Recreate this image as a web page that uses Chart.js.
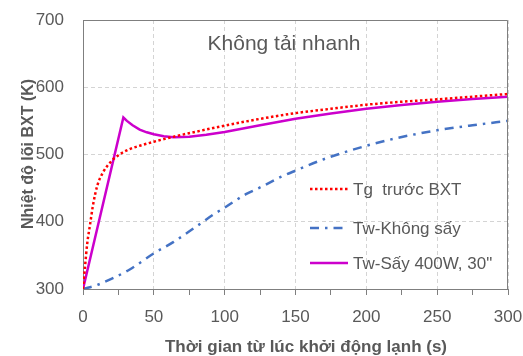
<!DOCTYPE html>
<html>
<head>
<meta charset="utf-8">
<script src="https://cdn.jsdelivr.net/npm/chart.js@4.4.0/dist/chart.umd.min.js"></script>
<style>
  html, body { margin: 0; padding: 0; background: #fff; }
  #khung { width: 523px; height: 356px; position: relative; }
</style>
</head>
<body>
<div id="khung"><canvas id="nhietDoChart"></canvas></div>
<script>
// du lieu doc tu hinh
const tieuDe = 'Không tải nhanh';
const tenTrucX = 'Thời gian từ lúc khởi động lạnh (s)';
const tenTrucY = 'Nhiệt độ lõi BXT (K)';
const tenDuLieu = ['Tg  trước BXT', 'Tw-Không sấy', 'Tw-Sấy 400W, 30"'];

const thoiGianTg = [0, 1.5, 3, 5, 7, 10, 14, 20, 25, 33, 40, 50, 64, 80, 100, 125, 150, 175, 200, 225, 250, 275, 300];
const nhietDoTg = [300, 335, 368, 396, 424, 453, 473, 490, 499, 508, 513, 519, 526.5, 534, 543, 553, 561.5, 568, 574, 578.5, 582, 586, 590];

const thoiGianKhongSay = [0, 10, 20, 33, 50, 64, 78, 93, 100, 115, 125, 140, 150, 170, 200, 225, 250, 275, 300];
const nhietDoKhongSay = [300, 306, 315, 329, 353, 370, 390, 412, 421, 441, 451, 467, 476, 493, 513, 526, 536, 543.5, 550];

const thoiGianSay = [0, 28.5, 31, 35, 40, 45, 50, 57, 64, 75, 87, 100, 125, 150, 175, 200, 225, 250, 275, 300];
const nhietDoSay = [300, 555, 550, 543.5, 537, 533, 530, 527, 525.5, 526.5, 529.5, 533.5, 543.5, 553, 561, 568, 573.5, 578.5, 582.5, 586];

const ghep = (xs, ys) => xs.map((x, i) => ({ x: x, y: ys[i] }));

const phongChu = '"Liberation Sans", Arial, sans-serif';
const mauChu = '#595959';

// ve tieu de, ten truc, khung tren/phai va chu thich
const veThem = {
    id: 'veThem',
    afterDraw(chart) {
        const ctx = chart.ctx;
        const a = chart.chartArea;
        ctx.save();
        ctx.strokeStyle = '#7f7f7f';
        ctx.lineWidth = 1;
        ctx.beginPath();
        ctx.moveTo(a.left, a.top + 0.5);
        ctx.lineTo(a.right - 0.5, a.top + 0.5);
        ctx.lineTo(a.right - 0.5, a.bottom);
        ctx.stroke();

        ctx.fillStyle = mauChu;
        ctx.textAlign = 'center';
        ctx.textBaseline = 'alphabetic';
        ctx.font = '21px ' + phongChu;
        ctx.fillText(tieuDe, 284, 50);

        ctx.font = 'bold 17px ' + phongChu;
        ctx.fillText(tenTrucX, 306, 352);

        ctx.save();
        ctx.translate(33, 154);
        ctx.rotate(-Math.PI / 2);
        ctx.font = 'bold 16px ' + phongChu;
        ctx.fillText(tenTrucY, 0, 0);
        ctx.restore();

        const hangY = [189, 228, 263];
        ctx.font = '17px ' + phongChu;
        ctx.textAlign = 'left';
        chart.data.datasets.forEach((ds, i) => {
            ctx.save();
            ctx.strokeStyle = ds.borderColor;
            ctx.lineWidth = ds.borderWidth;
            ctx.setLineDash(ds.borderDash || []);
            ctx.beginPath();
            ctx.moveTo(310, hangY[i]);
            ctx.lineTo(348, hangY[i]);
            ctx.stroke();
            ctx.restore();
            ctx.fillText(ds.label, 353, hangY[i] + 6);
        });
        ctx.restore();
    }
};

const ctx = document.getElementById('nhietDoChart').getContext('2d');
const nhietDoChart = new Chart(ctx, {
    type: 'line',
    data: {
        datasets: [{
            label: tenDuLieu[0],
            data: ghep(thoiGianTg, nhietDoTg),
            borderColor: '#ff0000',
            borderWidth: 2.5,
            borderDash: [2.5, 2.5],
            cubicInterpolationMode: 'monotone'
        }, {
            label: tenDuLieu[1],
            data: ghep(thoiGianKhongSay, nhietDoKhongSay),
            borderColor: '#4472c4',
            borderWidth: 2.5,
            borderDash: [9, 6, 2.5, 6],
            cubicInterpolationMode: 'monotone'
        }, {
            label: tenDuLieu[2],
            data: ghep(thoiGianSay, nhietDoSay),
            borderColor: '#cc00cc',
            borderWidth: 2.5,
            tension: 0
        }]
    },
    options: {
        responsive: true,
        maintainAspectRatio: false,
        animation: false,
        layout: { padding: { left: 0, right: 15, top: 20, bottom: 0 } },
        elements: { point: { radius: 0 } },
        plugins: {
            legend: { display: false },
            tooltip: { enabled: false }
        },
        scales: {
            x: {
                type: 'linear',
                min: 0,
                max: 300,
                afterFit: s => {
                    s.height = 67;
                    s.paddingLeft = 0;
                    s.paddingRight = 0;
                },
                ticks: {
                    stepSize: 25,
                    padding: 12,
                    color: mauChu,
                    font: { family: phongChu, size: 17 },
                    maxRotation: 0,
                    autoSkip: false,
                    callback: v => (v % 50 === 0 ? v : '')
                },
                grid: {
                    color: c => (c.tick && c.tick.value % 50 === 0 ? '#d4d4d4' : 'rgba(0,0,0,0)'),
                    borderDash: [4, 3],
                    tickColor: '#7f7f7f',
                    tickLength: 6,
                    tickBorderDash: []
                },
                border: { color: '#7f7f7f', width: 1, dash: [4, 3] }
            },
            y: {
                min: 300,
                max: 700,
                afterFit: s => {
                    s.width = 83;
                    s.paddingTop = 0;
                    s.paddingBottom = 0;
                },
                ticks: {
                    stepSize: 100,
                    padding: 19,
                    color: mauChu,
                    font: { family: phongChu, size: 17 }
                },
                grid: { color: '#d4d4d4', borderDash: [4, 3], drawTicks: false },
                border: { color: '#7f7f7f', width: 1, dash: [4, 3] }
            }
        }
    },
    plugins: [veThem]
});
</script>
</body>
</html>
